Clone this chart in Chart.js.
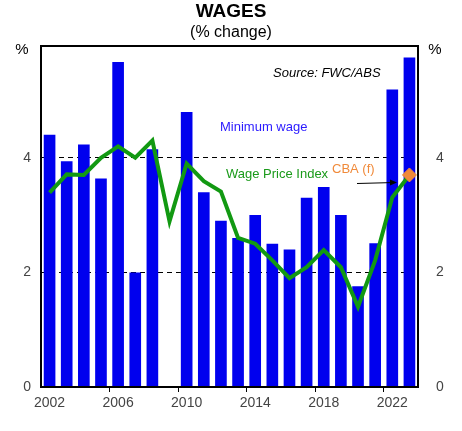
<!DOCTYPE html>
<html><head><meta charset="utf-8">
<script src="https://cdn.jsdelivr.net/npm/chart.js@4"></script>
<style>html,body{margin:0;padding:0;background:#fff}#w{width:462px;height:431px}</style>
</head><body><div id="w"><canvas id="c"></canvas></div>
<script>
const years = ['2002','2003','2004','2005','2006','2007','2008','2009','2010','2011','2012','2013','2014','2015','2016','2017','2018','2019','2020','2021','2022','2023'];
const minimumWage = [4.40,3.94,4.23,3.64,5.67,2.00,4.15,null,4.80,3.40,2.90,2.60,3.00,2.50,2.40,3.30,3.49,3.00,1.76,2.51,5.19,5.75];
const wpi = [3.39,3.71,3.70,4.00,4.20,4.00,4.30,2.89,3.90,3.59,3.41,2.60,2.50,2.21,1.90,2.09,2.39,2.09,1.40,2.21,3.31,3.70];
const cbaForecast = [null,null,null,null,null,null,null,null,null,null,null,null,null,null,null,null,null,null,null,null,null,3.70];
const yTicks = [0,2,4];
const FONT = "'Liberation Sans', Arial, sans-serif";

const deco = {
  id:'deco',
  afterDraw(ch){
    const c = ch.ctx, a = ch.chartArea;
    c.save();
    c.strokeStyle='#000'; c.lineWidth=2;
    c.strokeRect(a.left,a.top,a.right-a.left,a.bottom-a.top);
    c.textAlign='center'; c.textBaseline='middle'; c.fillStyle='#000';
    c.font="bold 19px "+FONT; c.fillText('WAGES',231,12);
    c.font="16px "+FONT; c.fillText('(% change)',231,33);
    c.font="15px "+FONT; c.fillText('%',22,50); c.fillText('%',435,50);
    c.font="italic 13px "+FONT; c.textAlign='left'; c.fillText('Source: FWC/ABS',273,73);
    c.font="13px "+FONT; c.fillStyle='#2a1aff'; c.fillText('Minimum wage',220,127);
    c.fillStyle='#1a9a1a'; c.fillText('Wage Price Index',226,174);
    c.fillStyle='#f08a3a'; c.fillText('CBA (f)',332,169);
    c.strokeStyle='#000'; c.lineWidth=1;
    c.beginPath(); c.moveTo(357,183.5); c.lineTo(395,182.5); c.stroke();
    c.beginPath(); c.moveTo(397,182.5); c.lineTo(390,179.5); c.lineTo(390,185.5); c.closePath(); c.fillStyle='#000'; c.fill();
    c.restore();
  }
};

new Chart(document.getElementById('c'),{
  data:{labels:years,datasets:[
    {type:'scatter',data:cbaForecast,pointStyle:'rectRot',pointRadius:7,backgroundColor:'#f08a3a',borderColor:'#f08a3a',yAxisID:'y',order:0},
    {type:'line',data:wpi,borderColor:'#129912',borderWidth:4,pointRadius:0,tension:0,yAxisID:'y',order:1},
    {type:'bar',data:minimumWage,backgroundColor:'#0000ee',borderWidth:0,barPercentage:0.68,categoryPercentage:1,yAxisID:'y',order:2}
  ]},
  options:{
    responsive:true,maintainAspectRatio:false,animation:false,
    layout:{padding:{top:46,left:0,right:0,bottom:0}},
    plugins:{legend:{display:false},tooltip:{enabled:false}},
    scales:{
      x:{type:'category',offset:true,
        grid:{offset:true,drawOnChartArea:false,drawTicks:true,tickLength:5,color:(ctx)=>(ctx.index%4===0&&ctx.index>0)?'#000':'rgba(0,0,0,0)'},
        border:{display:false},
        ticks:{autoSkip:false,maxRotation:0,color:'#444',font:{family:FONT,size:14},callback:(v,i)=>i%4===0?years[i]:''},
        afterFit(s){s.height=44;}},
      y:{position:'left',min:0,max:5.95,
        afterBuildTicks(s){s.ticks=yTicks.map(v=>({value:v}));},
        grid:{color:'#000',lineWidth:1,tickLength:0,drawTicks:false},
        border:{display:false,dash:[5,4]},
        ticks:{color:'#444',font:{family:FONT,size:14},padding:10},
        afterFit(s){s.width=41;}},
      y2:{position:'right',min:0,max:5.95,
        afterBuildTicks(s){s.ticks=yTicks.map(v=>({value:v}));},
        grid:{display:false},border:{display:false},
        ticks:{color:'#444',font:{family:FONT,size:14},padding:10},
        afterFit(s){s.width=44;}}
    }
  },
  plugins:[deco]
});
</script></body></html>
